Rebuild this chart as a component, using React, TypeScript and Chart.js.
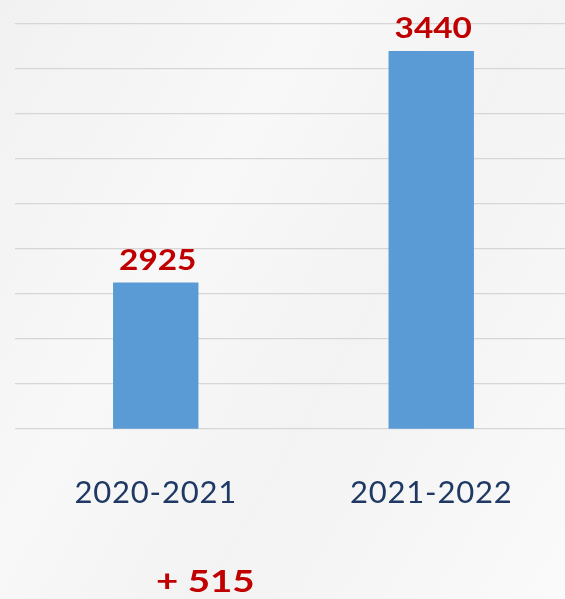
import React, { useEffect, useRef } from "react";
import { Chart, registerables } from "chart.js";

Chart.register(...registerables);

const categories: string[] = ["2020-2021", "2021-2022"];
const values: number[] = [2925, 3440];
const yMin = 2600;
const yMax = 3500;
const yStep = 100;
const differenceLabel = "+ 515";

const spacingPlugin = {
  id: "letterSpacing",
  beforeDraw(chart: any) {
    (chart.ctx as any).letterSpacing = "0.8px";
  },
};

const valueLabelPlugin = {
  id: "valueLabels",
  afterDatasetsDraw(chart: any) {
    const ctx = chart.ctx;
    const meta = chart.getDatasetMeta(0);
    meta.data.forEach((el: any, i: number) => {
      ctx.save();
      (ctx as any).letterSpacing = "0px";
      ctx.font = "bold 29px Lato";
      ctx.fillStyle = "#C00000";
      ctx.textAlign = "center";
      ctx.textBaseline = "alphabetic";
      ctx.translate(el.x + 2, el.y - 13);
      ctx.scale(1.15, 1);
      ctx.fillText(String(values[i]), 0, 0);
      ctx.restore();
    });
  },
};

export default function App() {
  const canvasRef = useRef<HTMLCanvasElement | null>(null);

  useEffect(() => {
    if (!canvasRef.current) return;
    const chart = new Chart(canvasRef.current, {
      type: "bar",
      data: {
        labels: categories,
        datasets: [
          {
            data: values,
            backgroundColor: "#5B9BD5",
            barPercentage: 0.31,
            categoryPercentage: 1,
          },
        ],
      },
      options: {
        animation: false,
        responsive: false,
        maintainAspectRatio: false,
        layout: { padding: { left: 15, right: 11, top: 24, bottom: 41 } },
        plugins: {
          legend: { display: false },
          tooltip: { enabled: false },
        },
        scales: {
          x: {
            grid: { display: false, drawTicks: false },
            border: { display: false },
            ticks: {
              color: "#1F3864",
              font: { family: "Lato", size: 31 },
              padding: 46,
            },
          },
          y: {
            min: yMin,
            max: yMax,
            ticks: { display: false, stepSize: yStep },
            border: { display: false },
            grid: { color: "#D6D6D6", lineWidth: 1.3, drawTicks: true, tickLength: 3 },
          },
        },
      },
      plugins: [spacingPlugin, valueLabelPlugin],
    });
    return () => chart.destroy();
  }, []);

  return (
    <div
      style={{
        position: "fixed",
        left: 0,
        top: 0,
        width: 565,
        height: 599,
        overflow: "hidden",
        background:
          "linear-gradient(120deg, #f1f1f1 0%, #f8f8f8 35%, #f3f3f3 60%, #fafafa 100%)",
      }}
    >
      <canvas
        ref={canvasRef}
        width={580}
        height={599}
        style={{ position: "absolute", left: 0, top: 0, width: 580, height: 599 }}
      />
      <div
        style={{
          position: "absolute",
          left: 156,
          top: 565,
          fontFamily: "Lato",
          fontWeight: "bold",
          fontSize: 31,
          lineHeight: 1,
          color: "#C00000",
          whiteSpace: "pre",
          transform: "scaleX(1.24)",
          transformOrigin: "left top",
        }}
      >
        {differenceLabel}
      </div>
    </div>
  );
}
